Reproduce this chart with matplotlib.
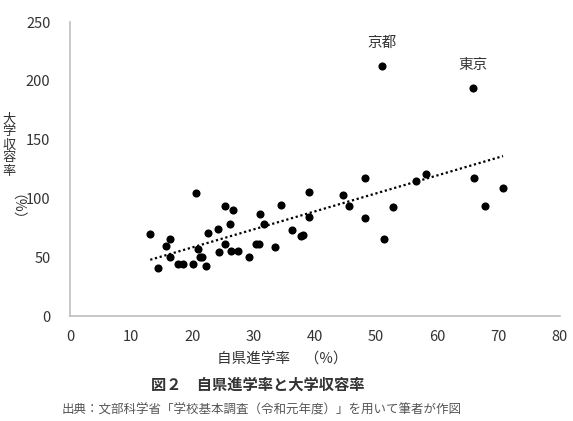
import numpy as np
import matplotlib
matplotlib.use('Agg')
import matplotlib.pyplot as plt

plt.rcParams['font.family'] = ['Noto Sans CJK JP', 'DejaVu Sans']

# 自県進学率 (%) と 大学収容率 (%)
jiken = [13.1, 14.3, 15.7, 16.4, 16.4, 17.6, 18.4, 20.0, 20.6, 20.9,
         21.2, 21.6, 22.2, 22.6, 24.2, 24.4, 25.3, 25.3, 26.1, 26.3,
         26.6, 27.5, 29.3, 30.4, 30.9, 31.0, 31.7, 33.5, 34.5, 36.2,
         37.7, 38.1, 39.0, 39.0, 44.5, 45.5, 48.2, 48.2, 50.9, 51.3,
         52.7, 56.5, 58.1, 65.8, 66.0, 67.7, 70.7]
shuyo = [69.6, 40.8, 59.6, 65.5, 50.0, 44.2, 44.2, 44.2, 104.9, 56.7,
         50.0, 50.0, 42.5, 70.6, 73.7, 54.1, 93.5, 61.5, 78.0, 55.0,
         90.1, 55.0, 50.0, 61.0, 61.0, 87.0, 78.0, 58.9, 94.4, 73.0,
         68.0, 68.6, 105.8, 84.4, 102.6, 93.5, 117.3, 83.0, 212.6, 65.7,
         92.7, 114.8, 120.5, 193.6, 117.3, 93.5, 109.1]
notes = {'京都': (50.9, 212.6), '東京': (65.8, 193.6)}

xticks = [0, 10, 20, 30, 40, 50, 60, 70, 80]
yticks = [0, 50, 100, 150, 200, 250]

fig = plt.figure(figsize=(5.73, 4.21), dpi=100)
ax = fig.add_axes([70/573, 1-316/421, 490/573, 294/421])

ax.scatter(jiken, shuyo, s=34, color='black', zorder=3, linewidths=0)

x = np.array(jiken)
y = np.array(shuyo)
a, b = np.polyfit(x, y, 1)
xs = np.array([x.min(), x.max()])
ax.plot(xs, a*xs + b, color='black', linestyle=(0, (1, 1.2)), linewidth=1.6)

for name, (px, py) in notes.items():
    ax.text(px, py + 20, name, ha='center', va='center', fontsize=10.5, color='#333333')

ax.set_xlim(0, 80)
ax.set_ylim(0, 250)
ax.set_xticks(xticks)
ax.set_yticks(yticks)
ax.tick_params(length=0, labelsize=10.5, labelcolor='#333333')
ax.tick_params(axis='y', pad=14)
ax.tick_params(axis='x', pad=10)
for s in ['top', 'right']:
    ax.spines[s].set_visible(False)
for s in ['left', 'bottom']:
    ax.spines[s].set_color('#BFBFBF')
    ax.spines[s].set_linewidth(1.2)

# 縦書きの軸ラベル
fig.text(9/573, 1-145/421, '\n'.join('大学収容率'), ha='center', va='center',
         fontsize=9.5, color='#333333', linespacing=1.0)
fig.text(9/573, 1-214/421, '（%）', ha='center', va='center',
         fontsize=10, color='#333333', rotation=-90)

fig.text(282/573, 1-359/421, '自県進学率　（%）', ha='center', va='center',
         fontsize=10.5, color='#333333')
fig.text(258/573, 1-385/421, '図２　自県進学率と大学収容率', ha='center', va='center',
         fontsize=11, fontweight='bold', color='#333333')
fig.text(262/573, 1-410/421, '出典：文部科学省「学校基本調査（令和元年度）」を用いて筆者が作図',
         ha='center', va='center', fontsize=9, color='#555555')

fig.savefig('out.png', dpi=100)
